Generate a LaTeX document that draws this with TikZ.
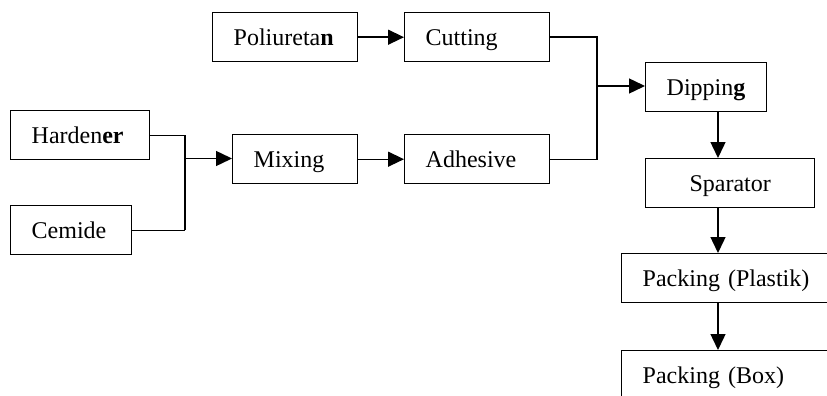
\documentclass[tikz,border=0pt]{standalone}
\usepackage{fontspec}
\setmainfont{Liberation Serif}
\usetikzlibrary{arrows.meta}
\begin{document}
\begin{tikzpicture}[x=1pt,y=-1pt,
  box/.style={draw, line width=1.4pt, rectangle, inner xsep=21pt, inner ysep=0pt,
    text height=16pt, text depth=0pt, font=\fontsize{24}{28}\selectfont,
    anchor=north west, minimum height=49pt, align=left, text width=#1},
  cbox/.style={box=#1, align=center},
  line/.style={line width=1.4pt},
  arr/.style={line width=1.4pt, -{Triangle[length=16pt,width=15pt]}}]
\useasboundingbox (0,0) rectangle (827,396);
\clip (0,0) rectangle (827,396);
\node[box=103pt] (pol) at (212,12) {Poliureta\textbf{n}};
\node[box=103pt] (cut) at (404,12) {Cutting};
\node[box=97pt]  (har) at (10,110) {Harden\textbf{er}};
\node[box=83pt]  (mix) at (232,134) {Mixing};
\node[box=103pt] (adh) at (404,134) {Adhesive};
\node[box=79pt]  (cem) at (10,205) {Cemide};
\node[box=79pt]  (dip) at (645,62) {Dippin\textbf{g}};
\node[cbox=127pt] (spa) at (645,158) {Sparator};
\node[box=187pt] (pla) at (621,253) {Packing (Plastik)};
\node[box=187pt] (pbx) at (621,350) {Packing (Box)};
\coordinate (j1) at (185,158.5);
\coordinate (j2) at (597,86);
\coordinate (ax) at (718,0);
\draw[arr] (pol.east) -- (cut.west);
\draw[line] (har.east) -| (j1 |- cem.east);
\draw[line] (cem.east) -- (j1 |- cem.east);
\draw[arr] (j1) -- (j1 -| mix.west);
\draw[arr] (mix.east) -- (adh.west);
\draw[line] (cut.east) -| (j2 |- adh.east) -- (adh.east);
\draw[arr] (j2) -- (j2 -| dip.west);
\draw[arr] (dip.south -| ax) -- (spa.north -| ax);
\draw[arr] (spa.south -| ax) -- (pla.north -| ax);
\draw[arr] (pla.south -| ax) -- (pbx.north -| ax);
\end{tikzpicture}
\end{document}
